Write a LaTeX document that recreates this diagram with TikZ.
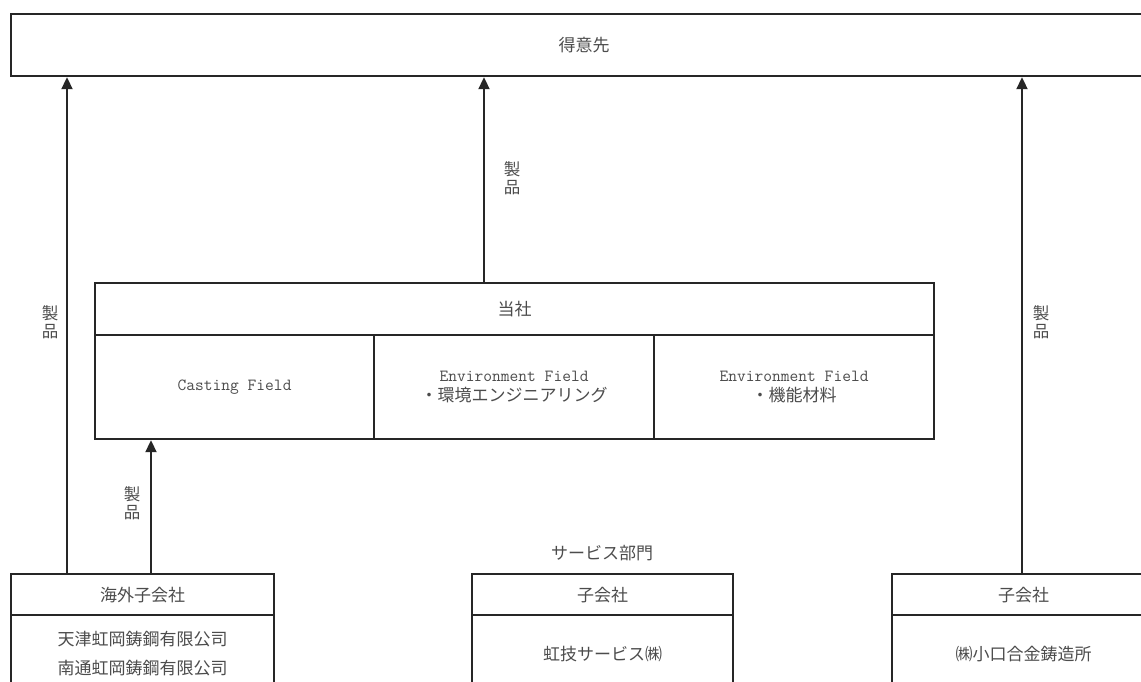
\documentclass[tikz,border=0pt]{standalone}
\usepackage{fontspec}
\setmainfont{Noto Sans CJK JP}
\usetikzlibrary{arrows.meta}
\tikzset{
  box/.style={draw=black!85, line width=2.2pt, inner sep=0pt, anchor=north west,
    font=\fontsize{17}{20}\selectfont, text=black!70, align=center},
  arr/.style={line width=2pt, draw=black!85, -{Triangle[width=11pt,length=12pt]}},
  lbl/.style={font=\fontsize{16.5}{18}\selectfont, text=black!70, align=center, inner sep=0pt},
}
\begin{document}
\begin{tikzpicture}[x=1pt,y=-1pt]
\useasboundingbox (0,0) rectangle (1141,682);
\fill[white] (0,0) rectangle (1141,682);
\clip (0,0) rectangle (1141,682);
% top
\node[box, minimum width=1146pt, minimum height=62pt] (client) at (10,13) {得意先};
% company
\node[box, minimum width=839pt, minimum height=52pt] (tosha) at (94,282) {当社};
\node[box, minimum width=279pt, minimum height=104pt] (cast) at (94,334) {\ttfamily Casting Field};
\node[box, minimum width=280pt, minimum height=104pt] (env1) at (373,334) {{\ttfamily Environment Field}\\・環境エンジニアリング};
\node[box, minimum width=280pt, minimum height=104pt] (env2) at (653,334) {{\ttfamily Environment Field}\\・機能材料};
% bottom
\node[box, minimum width=263pt, minimum height=41pt] (ovsh) at (10,573) {海外子会社};
\node[box, minimum width=263pt, minimum height=77pt, font=\fontsize{17}{29}\selectfont] (ovsb) at (10,614) {天津虹岡鋳鋼有限公司\\南通虹岡鋳鋼有限公司};
\node[box, minimum width=261pt, minimum height=41pt] (sub1h) at (471,573) {子会社};
\node[box, minimum width=261pt, minimum height=77pt] (sub1b) at (471,614) {虹技サービス㈱};
\node[box, minimum width=263pt, minimum height=41pt] (sub2h) at (891,573) {子会社};
\node[box, minimum width=263pt, minimum height=77pt] (sub2b) at (891,614) {㈱小口合金鋳造所};
\node[lbl, font=\fontsize{17}{20}\selectfont] (svc) at (602,553) {サービス部門};
% arrows
\coordinate (xa) at (67,0);
\coordinate (xb) at (151,0);
\coordinate (xc) at (484,0);
\coordinate (xd) at (1022,0);
\draw[arr] (ovsh.north -| xa) -- (client.south -| xa);
\draw[arr] (ovsh.north -| xb) -- (cast.south -| xb);
\draw[arr] (tosha.north -| xc) -- (client.south -| xc);
\draw[arr] (sub2h.north -| xd) -- (client.south -| xd);
% labels
\node[lbl] (p1) at (50,322) {製\\品};
\node[lbl] (p2) at (132,503) {製\\品};
\node[lbl] (p3) at (512,178) {製\\品};
\node[lbl] (p4) at (1041,322) {製\\品};
\end{tikzpicture}
\end{document}
